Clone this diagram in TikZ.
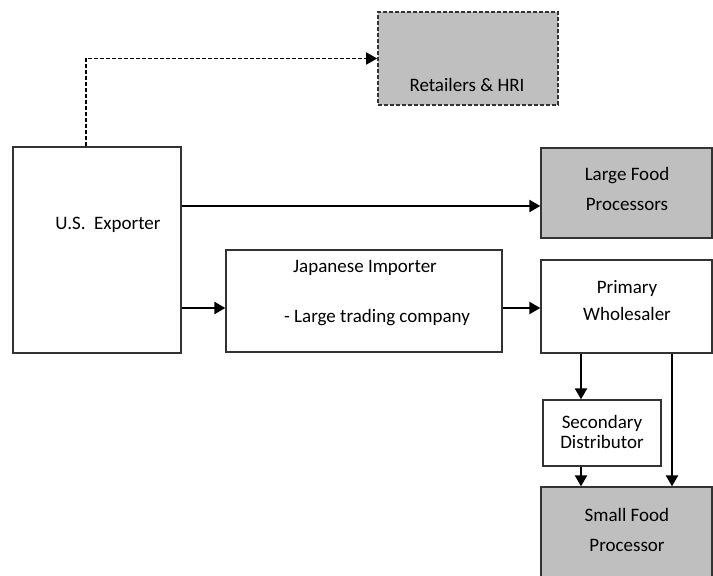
\documentclass[tikz,border=0pt]{standalone}
\usepackage{fontspec}
\setmainfont{Carlito}
\usetikzlibrary{arrows.meta}
\definecolor{boxgrey}{HTML}{BFBFBF}
\definecolor{edgegrey}{HTML}{333333}
\begin{document}
\begin{tikzpicture}[x=1pt, y=-1pt, font=\fontsize{19}{30}\selectfont]
      \tikzstyle{box}=[draw=edgegrey, line width=1.3pt, fill=white, inner sep=0pt]
      \tikzstyle{greybox}=[box, fill=boxgrey]
      \tikzstyle{plain}=[inner sep=0pt, align=center]
      \tikzstyle{flow}=[line width=2.2pt, -{Triangle[length=11pt, width=12pt]}]
      \tikzstyle{dashflow}=[line width=1.5pt, dash pattern=on 4pt off 2pt, -{Triangle[length=11pt, width=12pt]}]

      \useasboundingbox (0,0) rectangle (713,576);

      % boxes
      \path (97, 250) node[box, minimum width=168, minimum height=206] (exporter) {};
      \path (468, 58.5) node[greybox, dash pattern=on 4pt off 2pt, line width=1.6pt,
        minimum width=180, minimum height=93] (retail) {};
      \path (626.5, 193) node[greybox, minimum width=171, minimum height=90] (large) {};
      \path (364, 301) node[box, minimum width=276, minimum height=102] (importer) {};
      \path (626.5, 306.5) node[box, minimum width=171, minimum height=93] (primary) {};
      \path (602, 433) node[box, minimum width=118, minimum height=66] (secondary) {};
      \path (626.5, 532.5) node[greybox, minimum width=171, minimum height=91] (small) {};

      % texts
      \path (108, 225) node[plain] (exportertext) {U.S.\ \ Exporter};
      \path (467, 85) node[plain] (retailtext) {Retailers \& HRI};
      \path (627, 189) node[plain] (largetext) {Large Food\\Processors};
      \path (365, 268) node[plain] (importertext) {Japanese Importer};
      \path (377, 318) node[plain] (tradingtext) {- Large trading company};
      \path (627, 301) node[plain, font=\fontsize{19}{27}\selectfont] (primarytext) {Primary\\Wholesaler};
      \path (602, 432) node[plain, font=\fontsize{19}{20}\selectfont] (secondarytext) {Secondary\\Distributor};
      \path (627, 530) node[plain] (smalltext) {Small Food\\Processor};

      % flows
      \draw [dashflow] ([xshift=-11pt]exporter.north) |- (retail.west);
      \draw [flow] (exporter.east |- 0,206) -- (large.west |- 0,206);
      \draw [flow] (exporter.east |- 0,308) -- (importer.west |- 0,308);
      \draw [flow] (importer.east |- 0,308) -- (primary.west |- 0,308);
      \draw [flow] (primary.south -| 581,0) -- (secondary.north -| 581,0);
      \draw [flow] (primary.south -| 672,0) -- (small.north -| 672,0);
      \draw [flow] (secondary.south -| 581,0) -- (small.north -| 581,0);
    \end{tikzpicture}
\end{document}
